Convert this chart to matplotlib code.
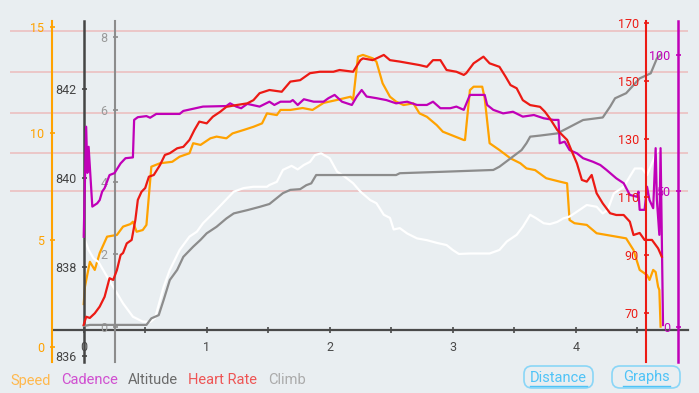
import numpy as np
import matplotlib
matplotlib.use("Agg")
import matplotlib.pyplot as plt
from matplotlib.patches import FancyBboxPatch
from matplotlib.lines import Line2D
from matplotlib.transforms import IdentityTransform
from matplotlib.ticker import FuncFormatter

plt.rcParams['font.family'] = ['Roboto', 'DejaVu Sans']

# ---- data (distance in km) ----
speed_km = [0.00, 0.01, 0.05, 0.09, 0.13, 0.19, 0.27, 0.32, 0.38, 0.40,
            0.43, 0.48, 0.51, 0.55, 0.62, 0.72, 0.78, 0.86, 0.89, 0.95,
            1.03, 1.08, 1.16, 1.21, 1.30, 1.38, 1.45, 1.49, 1.57, 1.60,
            1.68, 1.78, 1.86, 1.95, 2.06, 2.17, 2.19, 2.23, 2.27, 2.35,
            2.38, 2.43, 2.49, 2.54, 2.60, 2.68, 2.73, 2.79, 2.87, 2.92,
            2.99, 3.09, 3.10, 3.14, 3.17, 3.24, 3.26, 3.30, 3.38, 3.47,
            3.55, 3.60, 3.67, 3.76, 3.87, 3.93, 3.95, 3.99, 4.09, 4.17,
            4.25, 4.41, 4.47, 4.52, 4.58, 4.60, 4.63, 4.65, 4.67, 4.68,
            4.69]
speed = [2.00, 2.81, 3.98, 3.60, 4.39, 5.16, 5.24, 5.63, 5.75, 5.86,
         5.39, 5.47, 5.71, 8.44, 8.60, 8.67, 8.91, 9.07, 9.54, 9.46,
         9.77, 9.85, 9.77, 10.00, 10.16, 10.31, 10.47, 10.94, 10.86, 11.10,
         11.10, 11.19, 11.10, 11.43, 11.57, 11.72, 11.57, 13.60, 13.68, 13.52,
         13.36, 12.35, 11.72, 11.49, 11.33, 11.41, 10.94, 10.78, 10.39, 10.08,
         9.92, 9.69, 9.69, 12.03, 12.19, 12.19, 11.65, 9.54, 9.22, 8.83,
         8.60, 8.36, 8.28, 7.90, 7.74, 7.66, 5.94, 5.79, 5.71, 5.32,
         5.24, 5.08, 4.53, 3.60, 3.36, 3.13, 3.60, 3.50, 2.81, 2.66,
         0.94]

hr_km = [0.00, 0.02, 0.05, 0.09, 0.13, 0.17, 0.21, 0.24, 0.27, 0.30,
         0.32, 0.35, 0.39, 0.42, 0.44, 0.47, 0.50, 0.53, 0.57, 0.62,
         0.66, 0.70, 0.76, 0.81, 0.86, 0.90, 0.94, 1.00, 1.05, 1.11,
         1.16, 1.24, 1.33, 1.38, 1.43, 1.51, 1.61, 1.68, 1.76, 1.84,
         1.92, 2.03, 2.08, 2.19, 2.25, 2.27, 2.35, 2.44, 2.49, 2.57,
         2.65, 2.73, 2.79, 2.84, 2.90, 2.95, 3.03, 3.09, 3.11, 3.17,
         3.25, 3.30, 3.38, 3.43, 3.47, 3.52, 3.57, 3.63, 3.71, 3.75,
         3.79, 3.85, 3.89, 3.93, 3.97, 4.01, 4.05, 4.09, 4.13, 4.17,
         4.22, 4.28, 4.33, 4.39, 4.44, 4.47, 4.52, 4.56, 4.62, 4.67,
         4.70]
heart_rate = [65.8, 68.6, 68.2, 69.8, 72.1, 75.5, 81.9, 81.3, 84.7, 89.9,
              90.6, 93.9, 95.1, 102.0, 108.9, 111.7, 113.0, 116.9, 117.5, 120.9,
              124.4, 125.0, 126.7, 127.2, 129.6, 133.0, 135.9, 135.3, 137.6, 139.3,
              141.0, 141.6, 142.2, 143.3, 145.7, 146.8, 146.2, 149.7, 150.2, 152.6,
              153.1, 153.1, 153.7, 153.1, 157.1, 157.7, 157.1, 158.9, 157.1, 156.6,
              156.0, 155.4, 154.8, 157.1, 157.1, 153.7, 153.1, 152.0, 152.6, 156.0,
              158.3, 156.0, 154.8, 151.4, 148.5, 147.4, 143.3, 141.6, 141.0, 139.3,
              137.0, 133.0, 131.3, 129.6, 125.5, 121.5, 115.8, 115.2, 117.5, 111.2,
              107.7, 104.3, 103.7, 103.7, 101.4, 96.8, 97.5, 95.1, 95.1, 92.2,
              89.3]

cad_km = [0.00, 0.02, 0.03, 0.04, 0.07, 0.11, 0.13, 0.15, 0.17, 0.21,
          0.25, 0.30, 0.34, 0.40, 0.41, 0.44, 0.51, 0.54, 0.59, 0.78,
          0.81, 0.97, 1.16, 1.19, 1.24, 1.28, 1.33, 1.43, 1.51, 1.55,
          1.60, 1.68, 1.70, 1.74, 1.79, 1.87, 1.95, 1.99, 2.04, 2.10,
          2.18, 2.22, 2.26, 2.30, 2.38, 2.46, 2.54, 2.63, 2.71, 2.79,
          2.84, 2.90, 2.98, 3.03, 3.09, 3.14, 3.26, 3.28, 3.33, 3.41,
          3.49, 3.57, 3.66, 3.74, 3.82, 3.86, 3.87, 3.91, 3.95, 4.01,
          4.06, 4.14, 4.20, 4.25, 4.33, 4.39, 4.44, 4.50, 4.51, 4.52,
          4.56, 4.58, 4.60, 4.63, 4.65, 4.66, 4.68, 4.69, 4.70, 4.71]
cadence = [33.1, 73.6, 56.6, 66.2, 44.2, 45.4, 46.6, 49.7, 51.0, 55.8,
           56.5, 60.1, 62.0, 62.3, 76.1, 77.1, 77.5, 76.9, 78.3, 78.3,
           79.4, 81.0, 81.2, 82.2, 81.0, 80.4, 82.0, 81.0, 82.8, 81.6,
           82.8, 82.8, 83.4, 81.6, 83.7, 82.8, 82.8, 84.1, 85.3, 82.8,
           81.6, 84.7, 87.1, 84.7, 84.1, 83.4, 82.2, 82.8, 81.6, 81.6,
           82.8, 80.4, 80.4, 81.0, 79.8, 85.3, 85.3, 81.6, 79.8, 78.5,
           79.1, 77.3, 77.9, 76.7, 76.1, 76.1, 67.5, 68.1, 65.0, 63.8,
           62.0, 60.7, 59.5, 57.7, 54.6, 52.8, 48.5, 47.8, 49.7, 43.0,
           43.0, 51.5, 46.6, 43.6, 65.7, 46.6, 33.8, 65.7, 33.1, 0.6]

climb_km = [0.00, 0.05, 0.51, 0.55, 0.61, 0.65, 0.70, 0.76, 0.81, 0.89,
            0.95, 1.00, 1.08, 1.16, 1.22, 1.33, 1.43, 1.51, 1.62, 1.68,
            1.76, 1.81, 1.85, 1.89, 2.54, 2.57, 2.92, 3.33, 3.38, 3.47,
            3.56, 3.60, 3.63, 3.71, 3.85, 3.93, 4.06, 4.22, 4.28, 4.32,
            4.41, 4.52, 4.61, 4.66, 4.69]
climb = [0.02, 0.05, 0.05, 0.23, 0.32, 0.74, 1.29, 1.57, 1.93, 2.21,
         2.40, 2.58, 2.76, 2.99, 3.13, 3.22, 3.31, 3.39, 3.69, 3.78,
         3.80, 3.91, 3.96, 4.19, 4.19, 4.24, 4.28, 4.33, 4.42, 4.65,
         4.88, 5.07, 5.25, 5.28, 5.34, 5.48, 5.71, 5.78, 6.08, 6.31,
         6.45, 6.86, 7.00, 7.41, 7.51]

alt_km = [0.00, 0.04, 0.08, 0.12, 0.19, 0.27, 0.32, 0.40, 0.48, 0.54,
          0.58, 0.65, 0.70, 0.78, 0.86, 0.92, 0.97, 1.05, 1.13, 1.22,
          1.30, 1.38, 1.49, 1.51, 1.57, 1.62, 1.69, 1.74, 1.79, 1.84,
          1.88, 1.93, 2.00, 2.06, 2.12, 2.19, 2.25, 2.33, 2.38, 2.44,
          2.49, 2.52, 2.57, 2.63, 2.71, 2.79, 2.87, 2.95, 3.00, 3.05,
          3.14, 3.30, 3.38, 3.44, 3.52, 3.57, 3.63, 3.68, 3.74, 3.79,
          3.85, 3.90, 3.95, 4.01, 4.09, 4.17, 4.22, 4.26, 4.31, 4.39,
          4.44, 4.48, 4.54, 4.58, 4.62, 4.66, 4.69]
altitude = [838.69, 838.39, 838.20, 838.12, 837.79, 837.42, 837.19, 836.89, 836.78, 836.77,
            836.86, 837.56, 837.94, 838.39, 838.69, 838.80, 838.99, 839.21, 839.44, 839.70,
            839.78, 839.81, 839.81, 839.85, 839.92, 840.19, 840.28, 840.20, 840.30, 840.37,
            840.52, 840.56, 840.45, 840.15, 840.04, 839.89, 839.70, 839.51, 839.44, 839.18,
            839.11, 838.85, 838.88, 838.76, 838.65, 838.61, 838.55, 838.50, 838.39, 838.30,
            838.31, 838.31, 838.39, 838.58, 838.73, 838.91, 839.18, 839.10, 838.99, 838.97,
            839.02, 839.10, 839.14, 839.25, 839.40, 839.36, 839.21, 839.29, 839.66, 839.81,
            840.04, 840.22, 840.22, 840.07, 840.34, 840.60, 840.64]

hr_zones = [112, 125, 139, 153, 167]
x_ticks = [0, 0.5, 1, 1.5, 2, 2.5, 3, 3.5, 4, 4.5]
legend_labels = ['Speed', 'Cadence', 'Altitude', 'Heart Rate', 'Climb']
buttons = ['Distance', 'Graphs']

# ---- colours ----
BG = '#e9eef1'
C_SPEED = '#ffa200'
C_CAD = '#c000b8'
C_ALT = '#454545'
C_CLIMB = '#8c8c8c'
C_HR = '#ec1a14'
C_BTN = '#4fc3f7'

W, H = 699, 393
fig = plt.figure(figsize=(W / 100, H / 100), dpi=100)
fig.patch.set_facecolor(BG)

# plot box in pixels
L, R, T, B = 10, 688, 21, 362
rect = [L / W, 1 - B / H, (R - L) / W, (B - T) / H]
X0, KM = 83.7, 123.0  # pixel of 0 km, pixels per km
xlim = ((L - X0) / KM, (R - X0) / KM)


def frac(px):
    return (px - L) / (R - L)


# background axes: HR zone lines + distance axis
bg = fig.add_axes(rect)
bg.set_facecolor(BG)
bg.set_xlim(*xlim)
bg.set_ylim(53.0, 170.6)
for z in hr_zones:
    bg.axhline(z, color='#ecbcbc', lw=1.1, zorder=1)
for s in ['left', 'right', 'top']:
    bg.spines[s].set_visible(False)
bg.spines['bottom'].set_position(('axes', (B - 330) / (B - T)))
bg.spines['bottom'].set_bounds((53.3 - X0) / KM, xlim[1])
bg.spines['bottom'].set_color('#4a4a4a')
bg.spines['bottom'].set_linewidth(1.6)
bg.set_xticks(x_ticks)
bg.xaxis.set_major_formatter(FuncFormatter(
    lambda v, p: f'{v:.0f}' if abs(v - round(v)) < 1e-6 else ''))
bg.tick_params(axis='x', direction='inout', length=4.5, width=1.2,
               color='#4a4a4a', labelcolor='#4a4a4a', labelsize=9, pad=5.5)
bg.set_yticks([])


def side_axis(ylim, spine_px, color, lw, ticks, label_color):
    a = fig.add_axes(rect, sharex=bg)
    a.patch.set_visible(False)
    a.set_ylim(*ylim)
    for s in ['right', 'top', 'bottom']:
        a.spines[s].set_visible(False)
    a.spines['left'].set_position(('axes', frac(spine_px)))
    a.spines['left'].set_color(color)
    a.spines['left'].set_linewidth(lw)
    a.set_yticks(ticks)
    a.tick_params(axis='y', direction='inout', length=3.6, width=1.2,
                  color=color, labelcolor=label_color, labelsize=9, pad=3.6)
    a.xaxis.set_visible(False)
    return a


ax_speed = side_axis((-0.717, 15.27), 51.7, C_SPEED, 1.5, [0, 5, 10, 15], C_SPEED)
ax_alt = side_axis((835.872, 843.535), 83.7, C_ALT, 1.8, [836, 838, 840, 842], '#444444')
ax_climb = side_axis((-0.975, 8.445), 115, C_CLIMB, 1.5, [0, 2, 4, 6, 8], '#9a9a9a')
ax_cad = side_axis((-13.0, 112.5), 678, C_CAD, 1.8, [0, 50, 100], C_CAD)
ax_hr = side_axis((53.0, 170.6), 646.3, C_HR, 1.5, [70, 90, 110, 130, 150, 170], C_HR)

ax_alt.plot(alt_km, altitude, color='white', lw=1.6)
ax_climb.plot(climb_km, climb, color=C_CLIMB, lw=1.6)
ax_speed.plot(speed_km, speed, color=C_SPEED, lw=1.6)
ax_cad.plot(cad_km, cadence, color=C_CAD, lw=1.6)
ax_hr.plot(hr_km, heart_rate, color=C_HR, lw=1.6)

# legend text
leg_colors = ['#ffb84d', '#d04fd0', '#6b6b6b', '#ee5555', '#ababab']
leg_x = [10, 61, 128, 188, 268]
for lab, c, x in zip(legend_labels, leg_colors, leg_x):
    fig.text(x / W, 1 - 380.5 / H, lab, color=c, fontsize=10.5, va='center', ha='left')

# buttons (pixel coordinates, origin bottom-left)
btn_box = [(524, 593), (612, 680)]
for lab, (x1, x2) in zip(buttons, btn_box):
    box = FancyBboxPatch((x1, H - 388), x2 - x1, 22,
                         boxstyle='round,pad=0,rounding_size=8',
                         transform=IdentityTransform(), facecolor='none',
                         edgecolor='#8ad6f7', lw=1.2)
    fig.add_artist(box)
    cx = (x1 + x2) / 2
    fig.text(cx / W, 1 - 377.5 / H, lab, color=C_BTN, fontsize=10.5,
             va='center', ha='center')
    half = {'Distance': 28.5, 'Graphs': 23.5}[lab]
    fig.add_artist(Line2D([cx - half, cx + half], [H - 385.5, H - 385.5],
                          transform=IdentityTransform(), color=C_BTN, lw=1))

fig.savefig('out.png', dpi=100, facecolor=BG)
